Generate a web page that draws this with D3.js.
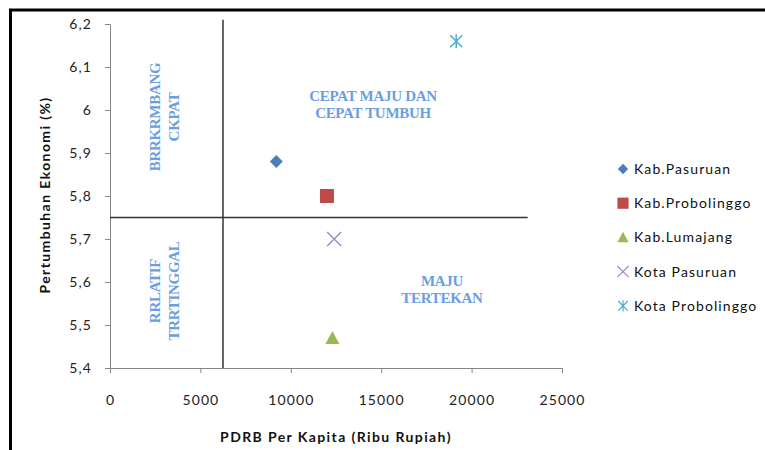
<!DOCTYPE html>
<html>
<head>
<meta charset="utf-8">
<script src="https://cdn.jsdelivr.net/npm/d3@7"></script>
<style>
  body { margin: 0; background: #fff; }
  .tick text { font-family: Lato, "Open Sans", sans-serif; font-size: 14px; letter-spacing: 1.1px; fill: #222; }
  .quad { font-family: "Liberation Serif", "DejaVu Serif", serif; font-weight: bold; font-size: 15px; letter-spacing: -0.3px; fill: #6a9ee0; }
  .axisText { font-family: Lato, "Open Sans", sans-serif; font-weight: bold; font-size: 14px; letter-spacing: 1.4px; fill: #111; }
  .legend text { font-family: Lato, "Open Sans", sans-serif; font-size: 14px; letter-spacing: 1.1px; fill: #111; }
</style>
</head>
<body>
<div id="scatter"></div>
<script>
// data
var names = ["Kab.Pasuruan", "Kab.Probolinggo", "Kab.Lumajang", "Kota Pasuruan", "Kota Probolinggo"];
var pdrb = [9200, 12000, 12300, 12400, 19150];
var growth = [5.88, 5.80, 5.47, 5.70, 6.16];
var colors = ["#4a7ebb", "#be4b48", "#98b954", "#9d8cc2", "#4bacc6"];
var shapes = ["diamond", "square", "triangle", "cross", "star"];
var xTicks = [0, 5000, 10000, 15000, 20000, 25000];
var yTicks = [5.4, 5.5, 5.6, 5.7, 5.8, 5.9, 6.0, 6.1, 6.2];
var splitX = 6250;
var splitY = 5.75;
var lineEndX = 23100;

var svgWidth = 765;
var svgHeight = 450;

var margin = { top: 24, right: 203, bottom: 82, left: 110 };
var width = svgWidth - margin.left - margin.right;
var height = svgHeight - margin.top - margin.bottom;

var svg = d3.select("#scatter")
    .append("svg")
    .attr("width", svgWidth)
    .attr("height", svgHeight);

// outer frame
svg.append("path")
    .attr("d", "M10.5,460 L10.5,10 L780,10")
    .attr("fill", "none")
    .attr("stroke", "#000")
    .attr("stroke-width", 3);

var chartGroup = svg.append("g")
    .attr("transform", `translate(${margin.left},${margin.top})`);

var x = d3.scaleLinear().domain([0, 25000]).range([0, width]);
var y = d3.scaleLinear().domain([5.4, 6.2]).range([height, 0]);

var fmtY = function (d) { return d3.format(".1f")(d).replace(".", ",").replace(",0", ""); };

var bottomAxis = d3.axisBottom(x).tickValues(xTicks).tickFormat(d3.format("d")).tickSize(5).tickPadding(22);
var leftAxis = d3.axisLeft(y).tickValues(yTicks).tickFormat(fmtY).tickSize(5).tickPadding(13);

var gx = chartGroup.append("g")
    .attr("transform", `translate(0, ${height})`)
    .call(bottomAxis);
var gy = chartGroup.append("g").call(leftAxis);
[gx, gy].forEach(function (g) {
    g.select(".domain").attr("stroke", "#868686");
    g.selectAll(".tick line").attr("stroke", "#868686");
});

// quadrant lines
chartGroup.append("line")
    .attr("x1", x(splitX)).attr("x2", x(splitX))
    .attr("y1", y(6.21)).attr("y2", y(5.4))
    .attr("stroke", "#333").attr("stroke-width", 1.5);
chartGroup.append("line")
    .attr("x1", x(0)).attr("x2", x(lineEndX))
    .attr("y1", y(splitY)).attr("y2", y(splitY))
    .attr("stroke", "#333").attr("stroke-width", 1.5);

// quadrant labels
function rotLabel(cx, cy, lines) {
    var t = chartGroup.append("text")
        .attr("class", "quad")
        .attr("transform", `translate(${cx},${cy}) rotate(-90)`)
        .attr("text-anchor", "middle");
    lines.forEach(function (l, i) {
        t.append("tspan").attr("x", 0).attr("y", i * 19 + 4).text(l);
    });
}
rotLabel(46, 93, ["BRRKRMBANG", "CKPAT"]);
rotLabel(46, 267, ["RRLATIF", "TRRTINGGAL"]);

function flatLabel(cx, cy, lines) {
    var t = chartGroup.append("text")
        .attr("class", "quad")
        .attr("text-anchor", "middle");
    lines.forEach(function (l, i) {
        t.append("tspan").attr("x", cx).attr("y", cy + i * 17).text(l);
    });
}
flatLabel(263, 77, ["CEPAT MAJU DAN", "CEPAT TUMBUH"]);
flatLabel(332, 262, ["MAJU", "TERTEKAN"]);

// markers
function marker(g, shape, color) {
    if (shape === "diamond") {
        g.append("path").attr("d", "M0,-6.5 L6.5,0 L0,6.5 L-6.5,0 Z").attr("fill", color);
    } else if (shape === "square") {
        g.append("rect").attr("x", -7).attr("y", -7).attr("width", 14).attr("height", 14).attr("fill", color);
    } else if (shape === "triangle") {
        g.append("path").attr("d", "M0,-7 L7,6 L-7,6 Z").attr("fill", color);
    } else if (shape === "cross") {
        g.append("path").attr("d", "M-7,-7 L7,7 M-7,7 L7,-7").attr("stroke", color).attr("stroke-width", 1.5);
    } else {
        g.append("path").attr("d", "M-6,-6 L6,6 M-6,6 L6,-6 M0,-7 L0,7").attr("stroke", color).attr("stroke-width", 1.5);
    }
}

var pts = chartGroup.selectAll(".pt")
    .data(names)
    .enter()
    .append("g")
    .attr("class", "pt")
    .attr("transform", (d, i) => `translate(${x(pdrb[i])},${y(growth[i])})`);
pts.each(function (d, i) { marker(d3.select(this), shapes[i], colors[i]); });

// legend
var legend = svg.append("g").attr("class", "legend");
names.forEach(function (n, i) {
    var row = legend.append("g").attr("transform", `translate(623, ${169 + i * 34.2})`);
    var m = row.append("g").attr("transform", "scale(0.8)");
    marker(m, shapes[i], colors[i]);
    row.append("text").attr("x", 11).attr("y", 5).text(n);
});

// axes labels
chartGroup.append("text")
    .attr("class", "axisText")
    .attr("transform", "rotate(-90)")
    .attr("x", -171)
    .attr("y", -60)
    .attr("text-anchor", "middle")
    .text("Pertumbuhan Ekonomi (%)");

chartGroup.append("text")
    .attr("class", "axisText")
    .attr("x", 226)
    .attr("y", 418)
    .attr("text-anchor", "middle")
    .text("PDRB Per Kapita (Ribu Rupiah)");
</script>
</body>
</html>
